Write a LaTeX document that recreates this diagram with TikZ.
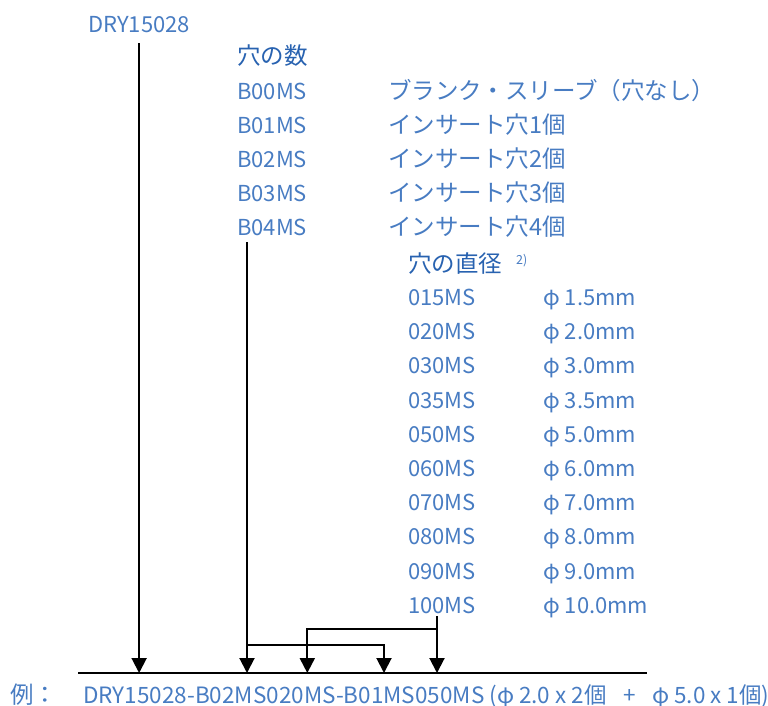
\documentclass[tikz,border=0pt]{standalone}
\usepackage{fontspec}
\setmainfont{Noto Sans CJK JP}
\usetikzlibrary{arrows.meta,positioning,calc}
\definecolor{codeblue}{RGB}{72,124,194}
\definecolor{headblue}{RGB}{40,98,176}
\tikzset{
code/.style={anchor=base west,inner sep=0pt,text=codeblue,font=\fontsize{22}{26}\selectfont},
desc/.style={code,font=\fontsize{23.5}{28}\selectfont},
heading/.style={code,text=headblue,font=\fontsize{23.5}{28}\selectfont},
note/.style={code,font=\fontsize{12.5}{15}\selectfont},
flow/.style={-{Triangle[length=15pt,width=15pt]},line width=2pt},
link/.style={line width=2pt}
}
\begin{document}
\begin{tikzpicture}[x=1pt,y=-1pt]
\useasboundingbox (0,0) rectangle (768,706);
\node[code](dry) at (88,32.5){DRY15028};
% number of holes
\node[heading](nhead) at (237,65){穴の数};
\node[code](b00) at (237,99.5){B00MS};
\node[code](b01) at (237,133.5){B01MS};
\node[code](b02) at (237,167.5){B02MS};
\node[code](b03) at (237,201.5){B03MS};
\node[code](b04) at (237,235.5){B04MS};
\node[desc](t00) at (388,99.5){ブランク・スリーブ（穴なし）};
\node[desc](t01) at (388,133.5){インサート穴1個};
\node[desc](t02) at (388,167.5){インサート穴2個};
\node[desc](t03) at (388,201.5){インサート穴3個};
\node[desc](t04) at (388,235.5){インサート穴4個};
% hole diameter
\node[heading](dhead) at (408,272){穴の直径};
\node[note](fn) at (516,264){2)};
\node[code](d015) at (408,305.5){015MS};
\node[code](d020) at (408,339.7){020MS};
\node[code](d030) at (408,373.9){030MS};
\node[code](d035) at (408,408.1){035MS};
\node[code](d050) at (408,442.3){050MS};
\node[code](d060) at (408,476.5){060MS};
\node[code](d070) at (408,510.7){070MS};
\node[code](d080) at (408,544.9){080MS};
\node[code](d090) at (408,579.1){090MS};
\node[code](d100) at (408,613.3){100MS};
\node[code](p015) at (543,305.5){φ 1.5mm};
\node[code](p020) at (543,339.7){φ 2.0mm};
\node[code](p030) at (543,373.9){φ 3.0mm};
\node[code](p035) at (543,408.1){φ 3.5mm};
\node[code](p050) at (543,442.3){φ 5.0mm};
\node[code](p060) at (543,476.5){φ 6.0mm};
\node[code](p070) at (543,510.7){φ 7.0mm};
\node[code](p080) at (543,544.9){φ 8.0mm};
\node[code](p090) at (543,579.1){φ 9.0mm};
\node[code](p100) at (543,613.3){φ 10.0mm};
% example line
\coordinate(bl) at (78,673);\coordinate(br) at (647,673);
\draw[link](bl)--(br);
\node[desc](ex) at (10,703){例：};
\node[code,font=\fontsize{22.5}{26}\selectfont](exa) at (83,703){DRY15028-B02MS020MS-B01MS050MS (φ 2.0 x 2個\hspace{16.5pt}+\hspace{16.5pt}φ 5.0 x 1個)};
\coordinate(dryfoot) at ([yshift=-10.5pt]dry.south);
\coordinate(b04foot) at ([xshift=10pt,yshift=-6.5pt]b04.south west);
\coordinate(d100foot) at ([xshift=-5pt,yshift=-2.5pt]d100.south);
\draw[flow](dryfoot)--(dryfoot|-bl);
\draw[flow](b04foot)--(b04foot|-bl);
\draw[flow](b04foot|-0,645.3)-|(384,673);
\draw[flow](d100foot)--(d100foot|-bl);
\draw[flow](d100foot|-0,628.7)-|(307.3,673);
\end{tikzpicture}
\end{document}
